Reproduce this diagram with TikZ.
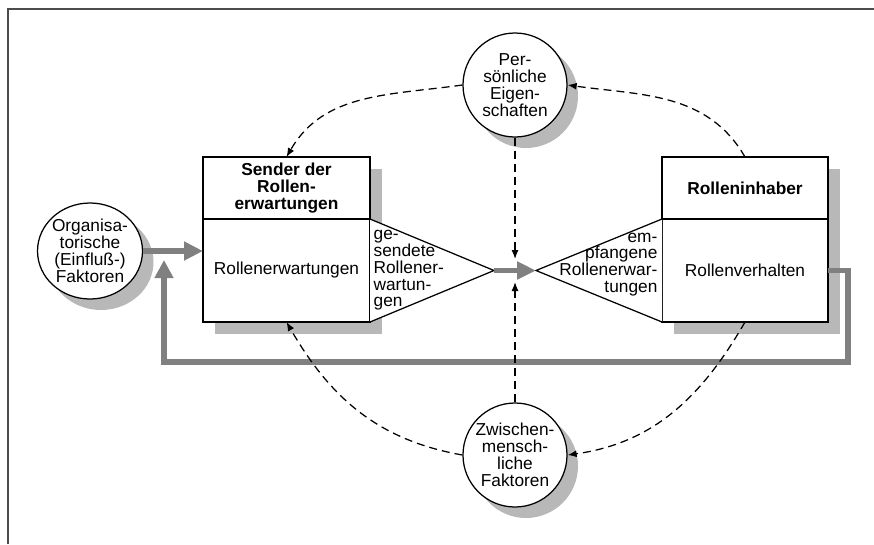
\documentclass[tikz,border=0pt]{standalone}
\usepackage{fontspec}
\setmainfont{Liberation Sans}
\usetikzlibrary{arrows.meta,positioning,shadows,shapes.geometric}

\begin{document}
\begin{tikzpicture}[x=1pt,y=1pt,>={Latex[length=9pt,width=7pt]},line width=1.25pt,
      every node/.style={font=\fontsize{17.3}{16.8}\selectfont},
      castshadow/.style={drop shadow={shadow xshift=11pt,shadow yshift=-11pt,fill=black!28,opacity=1}},
      main node/.style={circle,draw,fill=white,minimum size=104pt,inner sep=0pt,align=center,castshadow},
      box/.style={rectangle,draw,fill=white,minimum width=167pt,inner sep=0pt,outer sep=0pt,align=center,
        drop shadow={shadow xshift=12pt,shadow yshift=-12pt,fill=black!28,opacity=1}},
      flow/.style={-{Triangle[length=19pt,width=18pt]},line width=6pt,black!50},
      infl/.style={->,dash pattern=on 8pt off 5pt}]

      \useasboundingbox (0,0) rectangle (874,-544);
      \draw[line width=1.2pt,black!70] (8,-544) -- (8,-9) -- (874,-9);

      \node[main node] (pers) at (515,-85) {Per-\\sönliche\\Eigen-\\schaften};
      \node[main node] (zw) at (515,-455) {Zwischen-\\mensch-\\liche\\Faktoren};
      \node[main node,ellipse,minimum width=105pt,minimum height=96pt,inner sep=-8pt] (org) at (90,-251)
        {Organisa-\\torische\\(Einfluß-)\\Faktoren};

      \node[box,minimum height=62pt,font=\fontsize{17.3}{16.8}\selectfont\bfseries] (sendtop) at (286.5,-188)
        {Sender der\\Rollen-\\erwartungen};
      \node[box,minimum height=103pt,below=0pt of sendtop] (sendbot) {Rollenerwartungen};
      \node[box,minimum width=166pt,minimum height=62pt,font=\fontsize{17.3}{16.8}\selectfont\bfseries] (inhtop)
        at (745,-188) {Rolleninhaber};
      \node[box,minimum width=166pt,minimum height=103pt,below=0pt of inhtop] (inhbot) {Rollenverhalten};

      % Dreiecke
      \coordinate (sapex) at (494,-270.5);
      \coordinate (eapex) at (536,-270.5);
      \draw[fill=white] (sendbot.north east) -- (sapex) -- (sendbot.south east);
      \draw[fill=white] (inhbot.north west) -- (eapex) -- (inhbot.south west);
      \node[right=3pt of sendbot.east,align=left,inner sep=0pt] (sendlbl) {ge-\\sendete\\Rollener-\\wartun-\\gen};
      \node[left=4pt of inhbot.west,yshift=6pt,align=right,inner sep=0pt] (inhlbl) {em-\\pfangene\\Rollenerwar-\\tungen};

      % graue Pfeile
      \coordinate (fbtip) at (164,-260);
      \draw[flow] (org.east) -- (org.east -| sendbot.west);
      \draw[flow,line width=5.5pt,-{Triangle[length=19pt,width=17pt]}] (sapex) -- (eapex);
      \draw[flow,line width=5.5pt,line join=miter,-{Triangle[length=18pt,width=18pt]}]
        (inhbot.east) -| ++(20,-91.5) -| (fbtip);

      % Einfluesse
      \coordinate (ptip) at (515,-259);
      \coordinate (ztip) at (515,-282);
      \path[infl]
      (pers) edge (ptip)
      (zw) edge (ztip)
      (pers.west) edge [out=188,in=60] (sendtop.north)
      (inhtop.north) edge [out=120,in=-8] (pers.east)
      (zw.west) edge [out=170,in=-60] (sendbot.south)
      (inhbot.south) edge [out=-120,in=8] (zw.east);
    \end{tikzpicture}
\end{document}
